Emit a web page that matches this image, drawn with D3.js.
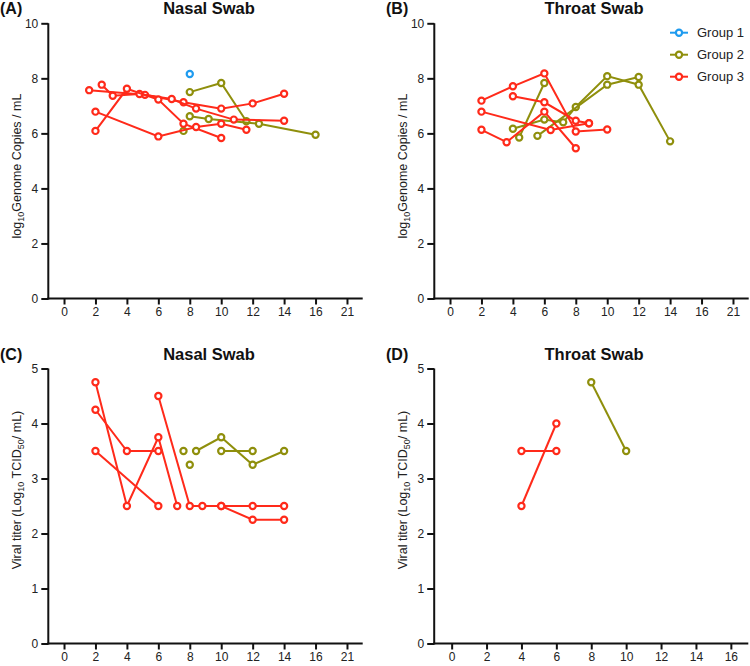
<!DOCTYPE html>
<html><head><meta charset="utf-8">
<script src="https://cdn.jsdelivr.net/npm/d3@7"></script>
<style>body{margin:0;background:#fff} text{font-family:Arial,"Liberation Sans",sans-serif}</style>
</head><body><svg id="c" width="750" height="666"></svg>
<script>
// ---------- data ----------
const groupNames = ["Group 1", "Group 2", "Group 3"];
const groupColors = ["#1f9bef", "#8f8f0c", "#ff2a1a"];

const xTickPos = [0, 2, 4, 6, 8, 10, 12, 14, 16, 18];
const xTickLabels = ["0", "2", "4", "6", "8", "10", "12", "14", "16", "21"];
const xTickPosD = [0, 2, 4, 6, 8, 10, 12, 14, 16];
const xTickLabelsD = ["0", "2", "4", "6", "8", "10", "12", "14", "16"];
const genomeTicks = [0, 2, 4, 6, 8, 10];
const titerTicks = [0, 1, 2, 3, 4, 5];

// Panel A: nasal swab, log10 genome copies / mL
const nasalGenome = [
  {g: 2, x: [8, 10, 11.6], y: [7.5, 7.83, 6.44]},
  {g: 2, x: [8, 9.2, 12.4, 16], y: [6.62, 6.52, 6.35, 5.95]},
  {g: 2, x: [7.6], y: [6.09]},
  {g: 3, x: [1.6, 5.15, 7.6, 10, 12, 14], y: [7.57, 7.40, 7.13, 6.9, 7.09, 7.44]},
  {g: 3, x: [2.4, 3.1, 4.8, 6.85, 8.4, 10.8, 14], y: [7.77, 7.37, 7.43, 7.25, 6.9, 6.5, 6.46]},
  {g: 3, x: [2, 4, 6, 7.6, 10], y: [6.09, 7.62, 7.23, 6.35, 5.83]},
  {g: 3, x: [2, 6, 8.4, 10, 11.6], y: [6.79, 5.89, 6.23, 6.35, 6.13]},
  {g: 1, x: [8], y: [8.16]}
];

// Panel B: throat swab, log10 genome copies / mL
const throatGenome = [
  {g: 2, x: [4, 6, 7.2, 8, 10, 12, 14], y: [6.17, 6.5, 6.4, 6.96, 8.08, 7.77, 5.71]},
  {g: 2, x: [5.56, 10, 12], y: [5.91, 7.77, 8.05]},
  {g: 2, x: [4.4, 6], y: [5.85, 7.83]},
  {g: 3, x: [2, 4, 6, 8, 10], y: [7.19, 7.71, 8.18, 6.07, 6.14]},
  {g: 3, x: [4, 6, 8, 8.84], y: [7.35, 7.13, 6.46, 6.37]},
  {g: 3, x: [2, 6.4, 8.84], y: [6.79, 6.12, 6.37]},
  {g: 3, x: [2, 3.6, 6, 8], y: [6.13, 5.68, 6.79, 5.46]}
];

// Panel C: nasal swab, viral titer
const nasalTiter = [
  {g: 2, x: [8.4, 10, 12, 14], y: [3.5, 3.75, 3.25, 3.5]},
  {g: 2, x: [10, 12], y: [3.5, 3.5]},
  {g: 2, x: [7.6], y: [3.5]},
  {g: 2, x: [8], y: [3.25]},
  {g: 3, x: [2, 4, 6, 7.2], y: [4.75, 2.5, 3.75, 2.5]},
  {g: 3, x: [2, 4, 6], y: [4.25, 3.5, 3.5]},
  {g: 3, x: [2, 6], y: [3.5, 2.5]},
  {g: 3, x: [6, 8, 8.8, 10, 12, 14], y: [4.5, 2.5, 2.5, 2.5, 2.5, 2.5]},
  {g: 3, x: [10, 12, 14], y: [2.5, 2.25, 2.25]}
];

// Panel D: throat swab, viral titer
const throatTiter = [
  {g: 2, x: [8, 10], y: [4.75, 3.5]},
  {g: 3, x: [4, 6], y: [3.5, 3.5]},
  {g: 3, x: [4, 6], y: [2.5, 4]}
];

// ---------- drawing ----------
const svg = d3.select("#c");

function subLabel(sel, parts) {
  parts.forEach(p => {
    const t = sel.append("tspan").text(p[0]);
    if (p[1] === "sub") t.attr("font-size", "9px").attr("dy", "3");
    if (p[1] === "up") t.attr("dy", "-3");
  });
}

function panel(cfg) {
  const x = d3.scaleLinear().domain(cfg.xd).range([cfg.l, cfg.r]);
  const y = d3.scaleLinear().domain(cfg.yd).range([cfg.b, cfg.t]);
  const g = svg.append("g");

  const xa = d3.axisBottom(x).tickValues(cfg.xt).tickFormat((d, i) => cfg.xl[i])
    .tickSizeOuter(0).tickSize(6).tickPadding(3);
  const ya = d3.axisLeft(y).tickValues(cfg.yt).tickFormat(d3.format("d"))
    .tickSizeOuter(0).tickSize(7).tickPadding(3);

  const gx = g.append("g").attr("transform", `translate(0,${cfg.b})`).call(xa);
  const gy = g.append("g").attr("transform", `translate(${cfg.l},0)`).call(ya);
  [gx, gy].forEach(a => {
    a.selectAll("path,line").attr("stroke", "#111").attr("stroke-width", 2);
    a.selectAll("text").attr("font-size", "12px").attr("fill", "#222")
      .attr("font-family", "Arial, 'Liberation Sans', sans-serif");
  });
  gx.select(".domain").attr("d", `M${cfg.l - 1},0H${cfg.r}`);
  gy.select(".domain").attr("d", `M0,${cfg.b + 1}V${cfg.t}`);

  const line = d3.line().x(d => x(d[0])).y(d => y(d[1]));
  cfg.data.forEach(s => {
    const pts = s.x.map((v, i) => [v, s.y[i]]);
    const col = groupColors[s.g - 1];
    g.append("path").attr("d", line(pts)).attr("fill", "none")
      .attr("stroke", col).attr("stroke-width", 2);
    g.selectAll(null).data(pts).enter().append("circle")
      .attr("cx", d => x(d[0])).attr("cy", d => y(d[1])).attr("r", 3.1)
      .attr("fill", "#fff").attr("stroke", col).attr("stroke-width", 2.2);
  });

  // titles
  svg.append("text").attr("x", cfg.tx).attr("y", cfg.ty).attr("text-anchor", "middle")
    .attr("font-size", "16.5px").attr("font-weight", "bold").attr("fill", "#111").text(cfg.title);
  svg.append("text").attr("x", cfg.lx).attr("y", cfg.ty).attr("font-size", "16px")
    .attr("font-weight", "bold").attr("fill", "#111").text(cfg.tag);

  const yl = svg.append("text")
    .attr("transform", `translate(${cfg.l - 27},${cfg.ylc}) rotate(-90)`)
    .attr("text-anchor", "middle").attr("font-size", "12.5px").attr("fill", "#222");
  subLabel(yl, cfg.ylabel);
}

const genomeLabel = [["log"], ["10", "sub"], ["Genome Copies / mL", "up"]];
const titerLabel = [["Viral titer (Log"], ["10", "sub"], [" TCID", "up"], ["50", "sub"], ["/ mL)", "up"]];

panel({data: nasalGenome, xd: [-1, 19], yd: [0, 10], l: 48.3, r: 362.7, t: 23.3, b: 298.5,
  xt: xTickPos, xl: xTickLabels, yt: genomeTicks, title: "Nasal Swab", tag: "(A)",
  tx: 209, ty: 14, lx: 0, ylc: 166, ylabel: genomeLabel});
panel({data: throatGenome, xd: [-1, 19], yd: [0, 10], l: 434.3, r: 748.7, t: 23.3, b: 298.5,
  xt: xTickPos, xl: xTickLabels, yt: genomeTicks, title: "Throat Swab", tag: "(B)",
  tx: 594, ty: 14, lx: 386, ylc: 166, ylabel: genomeLabel});
panel({data: nasalTiter, xd: [-1, 19], yd: [0, 5], l: 48.3, r: 362.7, t: 368.5, b: 643.5,
  xt: xTickPos, xl: xTickLabels, yt: titerTicks, title: "Nasal Swab", tag: "(C)",
  tx: 209, ty: 360, lx: 0, ylc: 490, ylabel: titerLabel});
panel({data: throatTiter, xd: [-1, 17], yd: [0, 5], l: 434.2, r: 748.3, t: 368.5, b: 643.5,
  xt: xTickPosD, xl: xTickLabelsD, yt: titerTicks, title: "Throat Swab", tag: "(D)",
  tx: 594, ty: 360, lx: 386, ylc: 490, ylabel: titerLabel});

// legend
const lg = svg.append("g");
groupNames.forEach((name, i) => {
  const cy = 32.7 + i * 22;
  lg.append("line").attr("x1", 670).attr("x2", 688).attr("y1", cy).attr("y2", cy)
    .attr("stroke", groupColors[i]).attr("stroke-width", 2);
  lg.append("circle").attr("cx", 679).attr("cy", cy).attr("r", 3.1).attr("fill", "#fff")
    .attr("stroke", groupColors[i]).attr("stroke-width", 2.2);
  lg.append("text").attr("x", 697).attr("y", cy).attr("dy", "0.35em")
    .attr("font-size", "13px").attr("fill", "#222").text(name);
});
</script></body></html>
